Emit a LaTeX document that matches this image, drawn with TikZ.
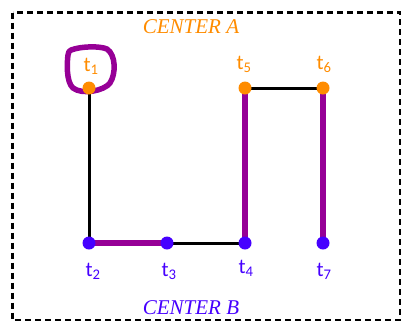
\documentclass[tikz,border=0pt]{standalone}
\usepackage{fontspec}
\setmainfont{Carlito}
\newfontfamily\serifit{Liberation Serif}
\definecolor{orng}{RGB}{255,140,0}
\definecolor{blu}{RGB}{70,0,255}
\definecolor{purp}{RGB}{150,0,150}
\tikzset{
  dotA/.style={circle,fill=orng,inner sep=0pt,minimum size=13pt},
  dotB/.style={circle,fill=blu,inner sep=0pt,minimum size=13pt},
  labA/.style={text=orng,font=\fontsize{21}{21}\selectfont},
  labB/.style={text=blu,font=\fontsize{21}{21}\selectfont},
  thin edge/.style={black,line width=3pt},
  thick edge/.style={purp,line width=5.5pt},
  centertxt/.style={font=\serifit\itshape\fontsize{21}{21}\selectfont},
}
\begin{document}
\begin{tikzpicture}[x=1pt,y=-1pt]
\useasboundingbox (0,0) rectangle (401,322);
\draw[line width=2.8pt,dash pattern=on 6pt off 4pt] (12.5,12.5) rectangle (400,320);
\node[centertxt,text=orng] (ca) at (191,27) {CENTER A};
\node[centertxt,text=blu] (cb) at (191,308) {CENTER B};
\coordinate (t1) at (89,88);
\coordinate (t5) at (245,88);
\coordinate (t6) at (323,88);
\coordinate (t2) at (89,243);
\coordinate (t3) at (167,243);
\coordinate (t4) at (245,243);
\coordinate (t7) at (323,243);
\draw[purp,line width=5.5pt,line cap=round,line join=round]
  (71,50) .. controls (82,46) and (100,46) .. (107,49)
  .. controls (116,55) and (116,74) .. (110,83)
  .. controls (104,91) and (82,95) .. (73,88)
  .. controls (66,82) and (67,62) .. (68,55)
  .. controls (68.5,52) and (69,51) .. (71,50);
\draw[thin edge] (t1) -- (t2);
\draw[thick edge] (t2) -- (t3);
\draw[thin edge] (t3) -- (t4);
\draw[thick edge] (t4) -- (t5);
\draw[thin edge] (t5) -- (t6);
\draw[thick edge] (t6) -- (t7);
\node[dotA] (d1) at (t1) {};
\node[dotA] (d5) at (t5) {};
\node[dotA] (d6) at (t6) {};
\node[dotB] (d2) at (t2) {};
\node[dotB] (d3) at (t3) {};
\node[dotB] (d4) at (t4) {};
\node[dotB] (d7) at (t7) {};
\node[labA] (l1) at (91,66) {t\textsubscript{1}};
\node[labA] (l5) at (244,64) {t\textsubscript{5}};
\node[labA] (l6) at (324,64) {t\textsubscript{6}};
\node[labB] (l2) at (93,271) {t\textsubscript{2}};
\node[labB] (l3) at (169,271) {t\textsubscript{3}};
\node[labB] (l4) at (246,268) {t\textsubscript{4}};
\node[labB] (l7) at (324,271) {t\textsubscript{7}};
\end{tikzpicture}
\end{document}
